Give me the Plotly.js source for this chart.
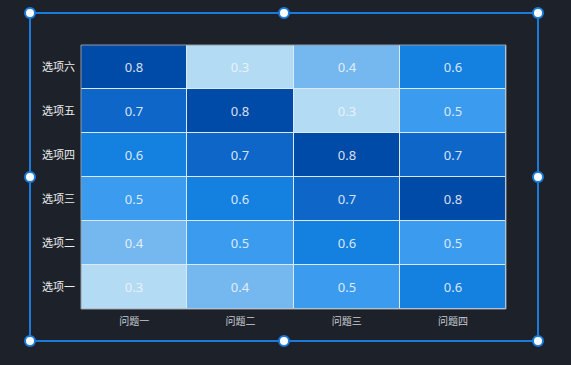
<!DOCTYPE html>
<html>
<head>
<meta charset="utf-8">
<script src="https://cdn.plot.ly/plotly-3.0.1.min.js"></script>
<style>html,body{margin:0;padding:0;background:#1d222a;}#chart{width:571px;height:365px;}</style>
</head>
<body>
<div id="chart"></div>
<script>
const questions = ['问题一', '问题二', '问题三', '问题四'];
const options = ['选项一', '选项二', '选项三', '选项四', '选项五', '选项六'];
// rows follow options (bottom to top), columns follow questions
const row1 = [0.3, 0.4, 0.5, 0.6];
const row2 = [0.4, 0.5, 0.6, 0.5];
const row3 = [0.5, 0.6, 0.7, 0.8];
const row4 = [0.6, 0.7, 0.8, 0.7];
const row5 = [0.7, 0.8, 0.3, 0.5];
const row6 = [0.8, 0.3, 0.4, 0.6];
const zValues = [row1, row2, row3, row4, row5, row6];

const trace = {
  type: 'heatmap',
  x: questions,
  y: options,
  z: zValues,
  zmin: 0.3,
  zmax: 0.8,
  colorscale: [
    [0, '#b3dbf3'], [0.2, '#75b8f0'], [0.4, '#3a9bef'],
    [0.6, '#1480e0'], [0.8, '#0e67c8'], [1, '#004aa8']
  ],
  showscale: false,
  xgap: 1,
  ygap: 1,
  texttemplate: '%{z}',
  textfont: {color: 'rgba(240,245,250,0.9)', size: 13, family: 'Noto Sans, sans-serif'},
  hoverinfo: 'skip'
};

const blue = '#1a7bdc';
function handle(px, py) {
  return {type: 'circle', xref: 'paper', yref: 'paper', xsizemode: 'pixel', ysizemode: 'pixel',
    xanchor: px, yanchor: py, x0: -5, x1: 5, y0: -5, y1: 5,
    fillcolor: '#ffffff', line: {color: blue, width: 2}, layer: 'above'};
}
const bx0 = -0.12, bx1 = 1.0753, bxm = 0.4776, by0 = -0.1212, by1 = 1.1212, bym = 0.5;
const shapes = [
  {type: 'rect', xref: 'paper', yref: 'paper', x0: bx0, x1: bx1, y0: by0, y1: by1,
   line: {color: blue, width: 2}, layer: 'above'},
  {type: 'rect', xref: 'paper', yref: 'paper', x0: 0, x1: 1, y0: 0, y1: 1,
   line: {color: '#8f99a5', width: 1}, layer: 'above'},
  handle(bx0, by1), handle(bxm, by1), handle(bx1, by1),
  handle(bx0, bym), handle(bx1, bym),
  handle(bx0, by0), handle(bxm, by0), handle(bx1, by0)
];

const layout = {
  width: 571, height: 365,
  margin: {l: 81, r: 65, t: 45, b: 56},
  paper_bgcolor: '#1d222a',
  plot_bgcolor: '#dbe9f6',
  font: {family: 'Noto Sans CJK SC, Noto Sans, sans-serif', color: '#e8e8e8'},
  xaxis: {showgrid: false, zeroline: false, ticks: '', ticklabelstandoff: 5, tickfont: {size: 10, color: '#c8ccd2'}, fixedrange: true},
  yaxis: {showgrid: false, zeroline: false, ticks: '', ticklabelstandoff: 5, tickfont: {size: 11, color: '#eeeeee'}, fixedrange: true},
  shapes: shapes
};

Plotly.newPlot('chart', [trace], layout, {displayModeBar: false, staticPlot: true});
</script>
</body>
</html>
